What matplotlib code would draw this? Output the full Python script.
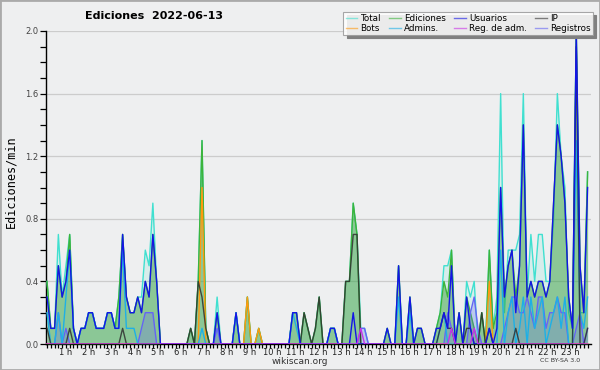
import numpy as np
import matplotlib
matplotlib.use('Agg')
import matplotlib.pyplot as plt
from matplotlib.lines import Line2D
from matplotlib.patches import Rectangle

# valores en decimas de edicion/min, una muestra cada 10 minutos (144)
total = [4,1,1,7,3,5,7,1,0,1,1,2,  2,1,1,1,2,2,1,3,7,3,2,2,
         3,3,6,5,9,4,0,0,0,0,0,0,  0,0,1,0,4,13,1,0,0,3,0,0,
         0,0,2,0,0,3,0,0,1,0,0,0,  0,0,0,0,0,2,2,0,2,1,0,1,
         3,0,0,1,1,0,0,4,4,9,7,1,  1,0,0,0,0,0,1,0,0,5,0,0,
         3,0,1,1,0,0,0,1,2,5,5,6,  0,2,0,4,3,4,0,2,0,6,1,3,
         16,2,6,6,6,7,16,3,7,4,7,7, 4,4,8,16,12,10,2,1,20,2,2,11]
ediciones = [4,1,1,5,3,4,7,1,0,1,1,2,  2,1,1,1,2,2,1,3,7,3,2,2,
             3,2,4,3,7,4,0,0,0,0,0,0,  0,0,1,0,4,13,1,0,0,2,0,0,
             0,0,2,0,0,3,0,0,1,0,0,0,  0,0,0,0,0,2,2,0,2,1,0,1,
             3,0,0,1,1,0,0,4,4,9,7,0,  0,0,0,0,0,0,1,0,0,5,0,0,
             3,0,1,1,0,0,0,1,2,4,3,6,  0,2,0,3,2,1,0,2,0,6,1,2,
             10,3,5,6,3,5,14,3,4,3,4,4, 3,4,9,14,12,9,3,1,20,5,2,11]
usuarios = [3,1,1,5,3,4,6,1,0,1,1,2,  2,1,1,1,2,2,1,1,7,3,2,2,
            3,2,4,3,7,4,0,0,0,0,0,0,  0,0,0,0,0,0,0,0,0,2,0,0,
            0,0,2,0,0,0,0,0,0,0,0,0,  0,0,0,0,0,2,2,0,0,0,0,0,
            0,0,0,1,1,0,0,0,0,2,0,0,  0,0,0,0,0,0,1,0,0,5,0,0,
            3,0,1,1,0,0,0,1,1,2,1,5,  0,2,0,3,1,0,0,0,0,1,0,1,
            10,3,5,6,2,5,14,3,4,3,4,4, 3,4,9,14,12,9,3,1,20,5,2,10]
ip = [1,0,0,0,0,0,1,0,0,0,0,0,  0,0,0,0,0,0,0,0,1,0,0,0,
      0,0,0,0,0,0,0,0,0,0,0,0,  0,0,1,0,4,3,1,0,0,0,0,0,
      0,0,0,0,0,0,0,0,0,0,0,0,  0,0,0,0,0,0,0,0,2,1,0,1,
      3,0,0,0,0,0,0,4,4,7,7,0,  0,0,0,0,0,0,0,0,0,0,0,0,
      0,0,0,0,0,0,0,0,1,2,1,1,  0,0,0,1,1,0,0,2,0,1,0,0,
      0,0,0,0,1,0,0,0,0,0,0,0,  0,0,0,0,0,0,0,0,19,0,0,1]
bots = [0]*144
bots[41], bots[53], bots[56], bots[117] = 10, 3, 1, 4
admins = [2,0,0,2,0,3,6,1,0,1,1,2,  2,1,1,1,2,2,1,1,6,1,1,1,
          0,0,0,0,0,0,0,0,0,0,0,0,  0,0,0,0,0,1,0,0,0,0,0,0,
          0,0,2,0,0,0,0,0,0,0,0,0,  0,0,0,0,0,2,1,0,0,0,0,0,
          0,0,0,1,1,0,0,0,0,0,0,0,  0,0,0,0,0,0,0,0,0,3,0,0,
          2,0,0,0,0,0,0,0,1,2,0,0,  0,0,0,0,0,0,0,0,0,0,0,0,
          6,0,2,3,0,1,3,0,3,1,2,3,  0,1,2,3,1,3,0,0,13,2,1,3]
reg_adm = [0]*144
reg_adm[83], reg_adm[107], reg_adm[113] = 1, 1, 1
registros = [0,0,0,2,0,1,0,0,0,0,0,0,  0,0,0,0,0,0,0,0,0,0,0,0,
             0,1,2,2,2,0,0,0,0,0,0,0,  0,0,0,0,0,0,0,0,0,1,0,0,
             0,0,0,0,0,0,0,0,0,0,0,0,  0,0,0,0,0,0,0,0,0,0,0,0,
             0,0,0,0,0,0,0,0,0,0,0,1,  1,0,0,0,0,0,0,0,0,0,0,0,
             0,0,0,0,0,0,0,0,0,0,2,1,  0,0,0,0,2,3,1,0,0,0,0,0,
             0,1,2,3,3,2,2,3,2,1,3,3,  1,2,2,3,2,2,0,0,1,2,0,1]
hours = list(range(1, 24))

x = np.arange(144)
s = lambda v: np.array(v) / 10.0

bg = '#eeeff0'
fig = plt.figure(figsize=(6, 3.7), dpi=100, facecolor=bg)
ax = fig.add_axes([45.5/600, 1-344/370, 545.5/600, 313/370], facecolor=bg)

c_total = '#40e0d0'
c_edic = '#3cb43c'
c_usu = '#1414e6'
c_ip = '#303030'
c_bots = '#ff9a10'
c_adm = '#1eb0e6'
c_regadm = '#c832e6'
c_reg = '#6464f5'

ax.fill_between(x, s(total), color=c_total, alpha=0.13, lw=0, zorder=2)
ax.plot(x, s(total), color=c_total, lw=1.0, zorder=3)
ax.fill_between(x, s(ediciones), color='#2f9a2f', alpha=0.45, lw=0, zorder=4)
ax.plot(x, s(ediciones), color=c_edic, lw=1.0, zorder=5)
ax.fill_between(x, s(registros), color=c_reg, alpha=0.25, lw=0, zorder=6)
ax.plot(x, s(registros), color=c_reg, lw=1.0, zorder=6)
ax.plot(x, s(bots), color=c_bots, lw=1.0, zorder=7)
ax.plot(x, s(admins), color=c_adm, lw=1.0, zorder=8)
ax.plot(x, s(ip), color=c_ip, lw=1.0, alpha=0.85, zorder=9)
ax.plot(x, s(usuarios), color=c_usu, lw=1.0, zorder=10)
ax.plot(x, s(reg_adm), color=c_regadm, lw=1.0, zorder=11)

ax.set_xlim(-0.4, 143.9)
ax.set_ylim(0, 2.0)
for sp in ['top', 'right']:
    ax.spines[sp].set_visible(False)
ax.spines['left'].set_linewidth(1.0)
ax.spines['bottom'].set_linewidth(1.0)

ax.set_yticks(np.arange(0, 2.01, 0.4))
ax.set_yticks(np.arange(0, 2.01, 0.1), minor=True)
ax.yaxis.set_major_formatter(matplotlib.ticker.FormatStrFormatter('%.1f'))
ax.tick_params(axis='y', which='both', length=4, width=0.9, labelsize=6, labelcolor='#444444', pad=1)
ax.grid(axis='y', which='major', color='#cccccc', lw=0.9, zorder=1)

# ticks cada 10 min, etiquetas de horas
ax.set_xticks(np.arange(0, 144), minor=True)
ax.set_xticks([(22.9*h - 3.9)/3.78 for h in hours])
ax.set_xticklabels([f'{h} h' for h in hours])
ax.tick_params(axis='x', which='minor', length=3, width=0.9)
ax.tick_params(axis='x', which='major', length=0, labelsize=6, labelcolor='#222222', pad=3)

fig.text(0.257, 0.957, 'Ediciones  2022-06-13', ha='center', va='center', fontsize=8, fontweight='bold')
fig.text(0.018, 0.51, 'Ediciones/min', rotation=90, ha='center', va='center', fontsize=8.5, family='DejaVu Sans Mono')
fig.text(0.5, 1-361/370, 'wikiscan.org', ha='center', va='center', fontsize=6.5, color='#333333')
fig.text(0.933, 1-360/370, 'CC BY-SA 3.0', ha='center', va='center', fontsize=4.5, color='#333333')

names = ['Total', 'Bots', 'Ediciones', 'Admins.', 'Usuarios', 'Reg. de adm.', 'IP', 'Registros']
cols = [c_total, c_bots, c_edic, c_adm, c_usu, c_regadm, c_ip, c_reg]
handles = [Line2D([], [], color=c, lw=1.0, alpha=0.6) for c in cols]
leg = fig.legend(handles, names, ncol=4, loc='upper right', bbox_to_anchor=(593/600, 1-12/370),
                 fontsize=6.3, frameon=True, fancybox=False, edgecolor='#999999', framealpha=0.85,
                 shadow={'ox': 2.5, 'oy': -2.5, 'color': '#808080', 'alpha': 1},
                 handlelength=1.3, handletextpad=0.4, columnspacing=0.95, borderpad=0.25,
                 labelspacing=0.05, borderaxespad=0)
leg.get_frame().set_linewidth(0.8)
leg.set_zorder(20)

fig.patches.append(Rectangle((0, 0), 1, 1, transform=fig.transFigure, fill=False,
                             edgecolor='#aaaaaa', lw=2))

fig.savefig('out.png', dpi=100, facecolor=bg)
